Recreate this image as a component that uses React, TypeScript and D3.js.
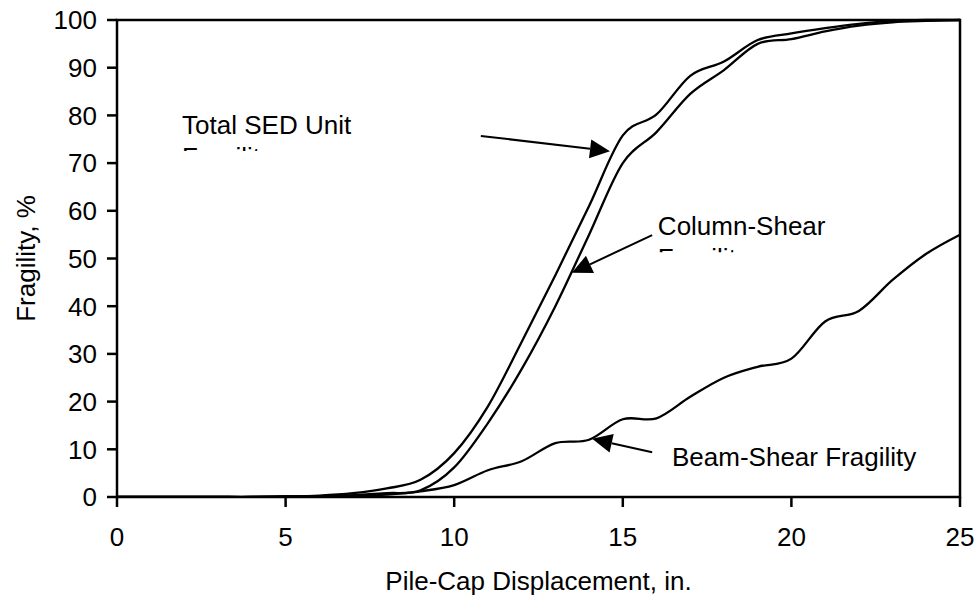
import React from "react";
import * as d3 from "d3";

const xValues = [0, 1, 2, 3, 4, 5, 6, 7, 8, 9, 10, 11, 12, 13, 14, 15, 16, 17, 18, 19, 20, 21, 22, 23, 24, 25];
const totalSED = [0, 0, 0, 0, 0, 0.1, 0.3, 0.8, 1.8, 3.6, 9.2, 19, 32.5, 46.5, 61, 75.8, 80.2, 88.3, 91.3, 95.8, 97.2, 98.3, 99.2, 99.8, 100, 100];
const columnShear = [0, 0, 0, 0, 0, 0.1, 0.2, 0.4, 0.8, 1.4, 6.2, 15.5, 26.8, 40, 55, 70, 76.5, 84.5, 89.5, 95, 96, 97.6, 98.8, 99.5, 99.8, 100];
const beamShear = [0, 0, 0, 0, 0, 0.05, 0.1, 0.2, 0.5, 1.2, 2.5, 5.6, 7.5, 11.3, 12, 16.3, 16.5, 21, 25, 27.3, 29, 36.8, 39, 45.5, 51, 55];

const xTicks = [0, 5, 10, 15, 20, 25];
const yTicks = [0, 10, 20, 30, 40, 50, 60, 70, 80, 90, 100];

const labels = [
  { line1: "Total SED Unit", line2: "Fragility", x: 1.93, y: 76.1, clipped: true },
  { line1: "Column-Shear", line2: "Fragility", x: 16.04, y: 54.9, clipped: true },
  { line1: "Beam-Shear Fragility", line2: "", x: 16.46, y: 6.6, clipped: false },
];
const arrows = [
  { x1: 10.79, y1: 75.7, x2: 14.62, y2: 72.5 },
  { x1: 15.87, y1: 54.9, x2: 13.49, y2: 47.0 },
  { x1: 15.87, y1: 9.4, x2: 14.09, y2: 12.2 },
];

const W = 979;
const H = 596;
const left = 117;
const right = 960;
const top = 20;
const bottom = 497;
const FONT = "'Liberation Sans', Arial, sans-serif";
const FS = 26;

export default function App() {
  const x = d3.scaleLinear().domain([0, 25]).range([left, right]);
  const y = d3.scaleLinear().domain([0, 100]).range([bottom, top]);
  const line = d3
    .line<[number, number]>()
    .x((d) => x(d[0]))
    .y((d) => y(d[1]))
    .curve(d3.curveCardinal.tension(0));
  const series = [totalSED, columnShear, beamShear];

  return (
    <svg
      width={W}
      height={H}
      style={{ position: "absolute", left: 0, top: 0, background: "#fff" }}
      fontFamily={FONT}
    >
      <rect x={0} y={0} width={W} height={H} fill="#fff" />
      <defs>
        {labels.map((l, i) => (
          <clipPath id={`clip${i}`} key={i}>
            <rect x={x(l.x) - 5} y={y(l.y) - 30} width={400} height={47} />
          </clipPath>
        ))}
        <clipPath id="plotclip">
          <rect x={left} y={top - 2} width={right - left} height={bottom - top + 2} />
        </clipPath>
      </defs>

      {/* curves */}
      <g clipPath="url(#plotclip)">
        {series.map((s, i) => (
          <path
            key={i}
            d={line(xValues.map((v, j) => [v, s[j]] as [number, number])) || ""}
            fill="none"
            stroke="#000"
            strokeWidth={2.3}
          />
        ))}
      </g>

      {/* frame */}
      <rect x={left} y={top} width={right - left} height={bottom - top} fill="none" stroke="#000" strokeWidth={2.5} />

      {/* y ticks */}
      {yTicks.map((t) => (
        <g key={`y${t}`}>
          <line x1={left - 10} x2={left} y1={y(t)} y2={y(t)} stroke="#000" strokeWidth={2.5} />
          <text x={left - 20} y={y(t)} dy="0.36em" textAnchor="end" fontSize={FS} fill="#000">
            {t}
          </text>
        </g>
      ))}

      {/* x ticks */}
      {xTicks.map((t) => (
        <g key={`x${t}`}>
          <line x1={x(t)} x2={x(t)} y1={bottom} y2={bottom + 10} stroke="#000" strokeWidth={2.5} />
          <text x={x(t)} y={546} textAnchor="middle" fontSize={FS} fill="#000">
            {t}
          </text>
        </g>
      ))}

      {/* axis titles */}
      <text x={(left + right) / 2} y={590} textAnchor="middle" fontSize={FS} fill="#000">
        Pile-Cap Displacement, in.
      </text>
      <text
        transform={`translate(35, ${(top + bottom) / 2}) rotate(-90)`}
        textAnchor="middle"
        fontSize={FS}
        fill="#000"
      >
        Fragility, %
      </text>

      {/* annotation labels */}
      {labels.map((l, i) => (
        <g key={`l${i}`} clipPath={l.clipped ? `url(#clip${i})` : undefined}>
          <text x={x(l.x)} y={y(l.y)} fontSize={FS} fill="#000">
            {l.line1}
          </text>
          {l.line2 && (
            <text x={x(l.x)} y={y(l.y) + 32} fontSize={FS} fill="#000">
              {l.line2}
            </text>
          )}
        </g>
      ))}

      {/* arrows */}
      {arrows.map((a, i) => {
        const sx = x(a.x1);
        const sy = y(a.y1);
        const tx = x(a.x2);
        const ty = y(a.y2);
        const ang = Math.atan2(ty - sy, tx - sx);
        const hl = 20;
        const hw = 9.5;
        const bx = tx - hl * Math.cos(ang);
        const by = ty - hl * Math.sin(ang);
        const px = -Math.sin(ang) * hw;
        const py = Math.cos(ang) * hw;
        return (
          <g key={`a${i}`}>
            <line x1={sx} y1={sy} x2={bx} y2={by} stroke="#000" strokeWidth={2} />
            <polygon points={`${tx},${ty} ${bx + px},${by + py} ${bx - px},${by - py}`} fill="#000" />
          </g>
        );
      })}
    </svg>
  );
}
